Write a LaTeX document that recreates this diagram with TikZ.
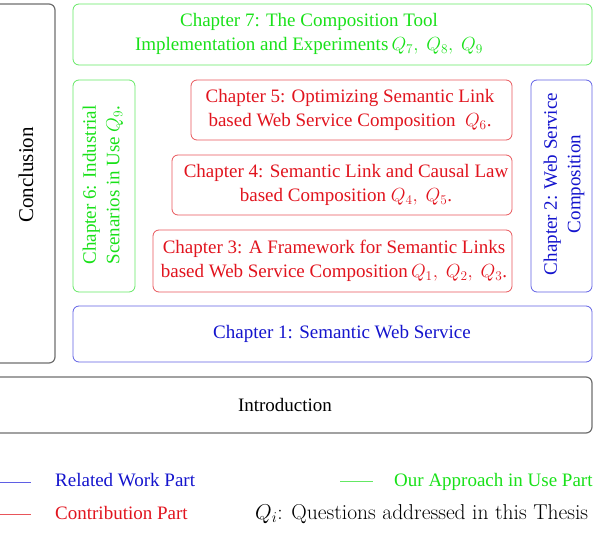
\RequirePackage{fix-cm}
\documentclass[tikz,border=0pt]{standalone}
\usepackage{fontspec}
\setmainfont{Liberation Serif}
\newfontfamily\lmfont{Latin Modern Roman}
\definecolor{cgreen}{RGB}{25,225,25}
\definecolor{cgreenl}{RGB}{100,232,100}
\definecolor{cred}{RGB}{225,20,30}
\definecolor{credl}{RGB}{232,85,90}
\definecolor{cblue}{RGB}{20,20,205}
\definecolor{cbluel}{RGB}{95,95,228}
\definecolor{cgray}{RGB}{110,110,110}
\tikzset{
  frame/.style={draw, rounded corners=6pt, inner sep=0pt, outer sep=0pt},
  gbox/.style={frame, draw=cgreenl, line width=0.8pt},
  rbox/.style={frame, draw=credl, line width=0.8pt},
  bbox/.style={frame, draw=cbluel, line width=0.8pt},
  kbox/.style={frame, draw=cgray, line width=1.2pt},
  txt/.style={align=center, inner sep=0pt, font=\fontsize{19}{23.5}\selectfont},
  gtxt/.style={txt, text=cgreen},
  rtxt/.style={txt, text=cred},
  btxt/.style={txt, text=cblue},
  ktxt/.style={txt, text=black},
  leg/.style={line width=0.8pt},
  legtxt/.style={anchor=base west, inner sep=0pt, font=\fontsize{19}{23.5}\selectfont}
}
\begin{document}
\begin{tikzpicture}[x=1pt,y=-1pt]
\useasboundingbox (0,0) rectangle (593,534);
\clip (0,0) rectangle (593,534);
% boxes
\node[kbox, minimum width=75, minimum height=359] (concl) at (17.5,183.5) {};
\node[kbox, minimum width=614, minimum height=56] (intro) at (285,405) {};
\node[gbox, minimum width=519, minimum height=61] (ch7) at (332.5,34.5) {};
\node[gbox, minimum width=62, minimum height=212] (ch6) at (104,186) {};
\node[rbox, minimum width=321, minimum height=60] (ch5) at (351.5,110) {};
\node[rbox, minimum width=340, minimum height=60] (ch4) at (342,185) {};
\node[rbox, minimum width=359, minimum height=62] (ch3) at (332.5,261) {};
\node[bbox, minimum width=61, minimum height=212] (ch2) at (561.5,186) {};
\node[bbox, minimum width=519, minimum height=56] (ch1) at (332.5,334) {};
% texts
\node[ktxt, rotate=90, font=\fontsize{21}{25}\selectfont] (tconcl) at (26,175) {Conclusion};
\node[ktxt] (tintro) at (285,405) {Introduction};
\node[gtxt] (t7) at (309,34) {Chapter 7: The Composition Tool\\Implementation and Experiments\,$Q_7,\ Q_8,\ Q_9$};
\node[gtxt, rotate=90] (t6) at (103,185) {Chapter 6: Industrial\\Scenarios in Use\ $Q_9$.};
\node[rtxt] (t5) at (350,110) {Chapter 5: Optimizing Semantic Link\\based Web Service Composition\ \ $Q_6$.};
\node[rtxt] (t4) at (346,185) {Chapter 4: Semantic Link and Causal Law\\based Composition\ $Q_4,\ Q_5$.};
\node[rtxt] (t3) at (334,261) {Chapter 3: A Framework for Semantic Links\\based Web Service Composition\,$Q_1,\ Q_2,\ Q_3$.};
\node[btxt, rotate=90] (t2) at (564,184) {Chapter 2: Web Service\\Composition};
\node[btxt] (t1) at (342,334) {Chapter 1: Semantic Web Service};
% legend
\coordinate (lb1) at (0,482);
\coordinate (lb2) at (31,482);
\coordinate (lg1) at (340,481);
\coordinate (lg2) at (373,481);
\coordinate (lr1) at (0,514);
\coordinate (lr2) at (31,514);
\draw[leg, draw=cbluel] (lb1) -- (lb2);
\draw[leg, draw=cgreenl] (lg1) -- (lg2);
\draw[leg, draw=credl] (lr1) -- (lr2);
\node[legtxt, text=cblue] (lbt) at (55,486) {Related Work Part};
\node[legtxt, text=cgreen] (lgt) at (394,486) {Our Approach in Use Part};
\node[legtxt, text=cred] (lrt) at (55,519) {Contribution Part};
\node[legtxt, font=\fontsize{21.5}{26}\selectfont\lmfont] (lqt) at (255,519) {$Q_i$: Questions addressed in this Thesis};
\end{tikzpicture}
\end{document}
